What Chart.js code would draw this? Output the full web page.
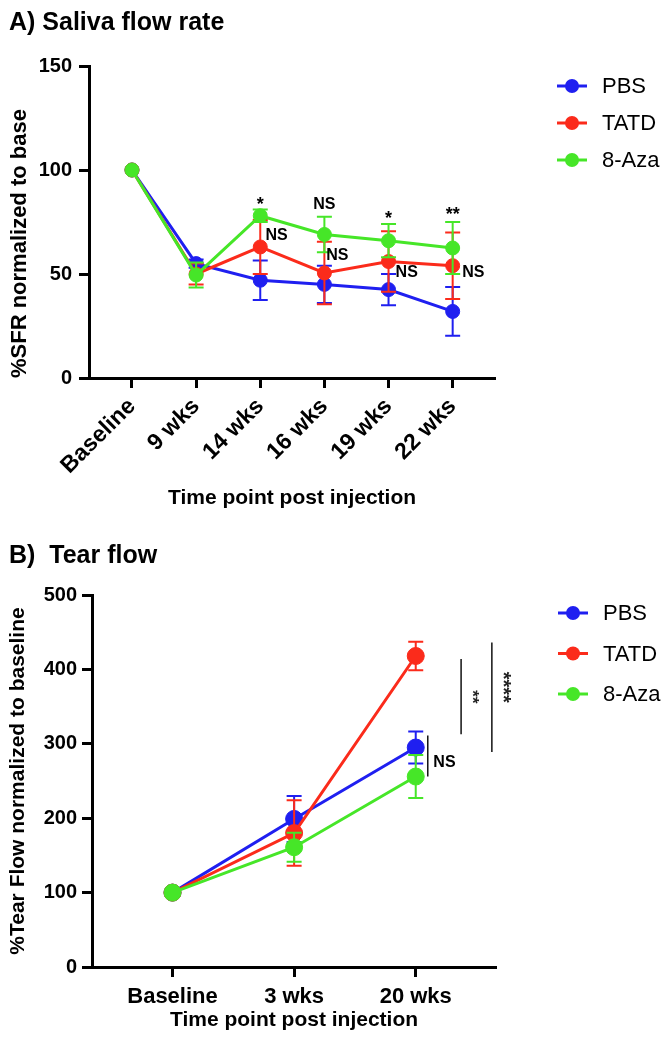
<!DOCTYPE html>
<html>
<head>
<meta charset="utf-8">
<script src="https://cdn.jsdelivr.net/npm/chart.js@4.4.0/dist/chart.umd.min.js"></script>
<style>
  body { margin: 0; background: #fff; }
  #page { position: relative; width: 669px; height: 1050px; font-family: 'Liberation Sans', Arial, sans-serif; }
  .box { position: absolute; left: 0; width: 669px; }
  .panel-title { position: absolute; left: 9px; font-weight: bold; font-size: 25px; line-height: 25px; white-space: pre; color: #000; }
</style>
</head>
<body>
<div id="page">
  <div class="box" style="top:0;height:530px"><canvas id="salivaChart"></canvas></div>
  <div class="box" style="top:530px;height:520px"><canvas id="tearChart"></canvas></div>
  <div class="panel-title" style="top:9px">A) Saliva flow rate</div>
  <div class="panel-title" style="top:542px">B)  Tear flow</div>
</div>
<script>
// --- A) Saliva flow rate ---
const salivaLabels = ['Baseline', '9 wks', '14 wks', '16 wks', '19 wks', '22 wks'];
const salivaPBS    = [100, 55, 47, 45, 42.5, 32];
const salivaPBSErr = [0, 2, 9.5, 9, 7.5, 11.7];
const salivaTATD    = [100, 50, 63, 50.5, 56, 54];
const salivaTATDErr = [0, 5, 13, 15, 14.5, 16];
const salivaAza    = [100, 49.5, 78, 69, 66, 62.5];
const salivaAzaErr = [0, 6, 3, 8.5, 8, 12.5];
// significance labels: [x position (category units), y value, text, align]
const salivaNotes = [
    [2, 84.8, '*', 'center'],
    [2.08, 68.7, 'NS', 'left'],
    [3, 83.5, 'NS', 'center'],
    [3.03, 58.8, 'NS', 'left'],
    [4, 77.9, '*', 'center'],
    [4.11, 50.6, 'NS', 'left'],
    [5, 79.7, '**', 'center'],
    [5.15, 50.6, 'NS', 'left']
];

// --- B) Tear flow ---
const tearLabels = ['Baseline', '3 wks', '20 wks'];
const tearPBS    = [100, 199, 295];
const tearPBSErr = [0, 31, 21.5];
const tearTATD    = [100, 180, 418];
const tearTATDErr = [0, 44, 19];
const tearAza    = [100, 161, 256];
const tearAzaErr = [0, 19.5, 29];
// brackets: [x (category units), from, to]
const tearBrackets = [
    [2.373, 414, 313],
    [2.626, 436, 289],
    [2.099, 311, 256]
];
const tearNotes = [
    [2.461, 363, '**', 'vertical'],
    [2.717, 376, '****', 'vertical'],
    [2.145, 274.6, 'NS', 'left']
];

const FONT = "'Liberation Sans', Arial, sans-serif";
const BLUE = '#1f1ff0';
const RED = '#fb2b1b';
const GREEN = '#46e628';

function series(label, values, errors, color, order, radius) {
    return {
        label: label,
        data: values.map((v, i) => ({ x: i, y: v })),
        errors: errors,
        borderColor: color,
        backgroundColor: color,
        pointBackgroundColor: color,
        pointBorderColor: color,
        borderWidth: 3,
        pointRadius: radius,
        pointBorderWidth: 1,
        tension: 0,
        order: order
    };
}

// error bars drawn under each dataset
const errorBars = {
    id: 'errorBars',
    beforeDatasetDraw(chart, args) {
        const ds = chart.data.datasets[args.index];
        if (!ds.errors) return;
        const yScale = chart.scales.y;
        const ctx = chart.ctx;
        ctx.save();
        ctx.strokeStyle = ds.borderColor;
        ctx.lineWidth = 2;
        args.meta.data.forEach((pt, i) => {
            const e = ds.errors[i];
            if (!e) return;
            const v = ds.data[i].y;
            const top = yScale.getPixelForValue(v + e);
            const bot = yScale.getPixelForValue(v - e);
            const cap = 7.5;
            ctx.beginPath();
            ctx.moveTo(pt.x, top); ctx.lineTo(pt.x, bot);
            ctx.moveTo(pt.x - cap, top); ctx.lineTo(pt.x + cap, top);
            ctx.moveTo(pt.x - cap, bot); ctx.lineTo(pt.x + cap, bot);
            ctx.stroke();
        });
        ctx.restore();
    }
};

function makeNotes(notes, brackets) {
    return {
        id: 'notes',
        afterDatasetsDraw(chart) {
            const { ctx, scales: { x, y } } = chart;
            ctx.save();
            ctx.fillStyle = '#000';
            ctx.textBaseline = 'middle';
            notes.forEach(([xv, yv, text, align]) => {
                const px = x.getPixelForValue(xv);
                const py = y.getPixelForValue(yv);
                if (align === 'vertical') {
                    ctx.save();
                    ctx.translate(px, py);
                    ctx.rotate(Math.PI / 2);
                    ctx.font = text.length > 2 ? `bold 20px ${FONT}` : `bold 17px ${FONT}`;
                    ctx.fillStyle = '#222';
                    ctx.textAlign = 'center';
                    ctx.fillText(text, 0, 0);
                    ctx.restore();
                    return;
                }
                ctx.font = text.startsWith('*') ? `bold 18px ${FONT}` : `bold 16px ${FONT}`;
                ctx.textAlign = align;
                ctx.fillText(text, px, text.startsWith('*') ? py + 3 : py);
            });
            ctx.strokeStyle = '#111';
            ctx.lineWidth = 1.5;
            brackets.forEach(([xv, y1, y2]) => {
                const px = x.getPixelForValue(xv);
                ctx.beginPath();
                ctx.moveTo(px, y.getPixelForValue(y1));
                ctx.lineTo(px, y.getPixelForValue(y2));
                ctx.stroke();
            });
            ctx.restore();
        }
    };
}

// legend on the right: short line with a dot, then the name
function makeLegend(firstRow, rowGap) {
    return {
        id: 'sideLegend',
        afterDraw(chart) {
            const { ctx, chartArea } = chart;
            ctx.save();
            chart.data.datasets.forEach((ds, i) => {
                const yy = chartArea.top + firstRow + i * rowGap;
                const x0 = chartArea.right + 62;
                ctx.strokeStyle = ds.borderColor;
                ctx.lineWidth = 3;
                ctx.beginPath();
                ctx.moveTo(x0, yy); ctx.lineTo(x0 + 30, yy);
                ctx.stroke();
                ctx.fillStyle = ds.borderColor;
                ctx.beginPath();
                ctx.arc(x0 + 15, yy, 7, 0, Math.PI * 2);
                ctx.fill();
                ctx.fillStyle = '#000';
                ctx.font = `22px ${FONT}`;
                ctx.textAlign = 'left';
                ctx.textBaseline = 'middle';
                ctx.fillText(ds.label, x0 + 45, yy + 1);
            });
            ctx.restore();
        }
    };
}

const axisGrid = { display: true, drawOnChartArea: false, drawTicks: true, tickLength: 10, tickWidth: 3, tickColor: '#000' };
const axisBorder = { display: true, color: '#000', width: 3 };

new Chart(document.getElementById('salivaChart'), {
    type: 'line',
    data: {
        datasets: [
            series('PBS', salivaPBS, salivaPBSErr, BLUE, 3, 7),
            series('TATD', salivaTATD, salivaTATDErr, RED, 2, 7),
            series('8-Aza', salivaAza, salivaAzaErr, GREEN, 1, 7)
        ]
    },
    options: {
        responsive: true,
        maintainAspectRatio: false,
        animation: false,
        layout: { padding: { top: 66, right: 174, left: 0, bottom: 0 } },
        plugins: { legend: { display: false }, tooltip: { enabled: false } },
        scales: {
            x: {
                type: 'linear',
                min: -0.67,
                max: 5.66,
                afterFit: s => { s.height = 152; },
                afterBuildTicks: s => { s.ticks = salivaLabels.map((_, i) => ({ value: i })); },
                ticks: {
                    callback: v => salivaLabels[v],
                    autoSkip: false,
                    minRotation: 45,
                    maxRotation: 45,
                    padding: 5,
                    color: '#000',
                    font: { family: FONT, size: 23, weight: 'bold' }
                },
                grid: axisGrid,
                border: axisBorder,
                title: {
                    display: true,
                    text: 'Time point post injection',
                    color: '#000',
                    font: { family: FONT, size: 21, weight: 'bold' },
                    padding: { top: 0, bottom: 19 }
                }
            },
            y: {
                min: 0,
                max: 150,
                afterFit: s => { s.width = 89; },
                ticks: {
                    stepSize: 50,
                    padding: 7,
                    color: '#000',
                    font: { family: FONT, size: 20, weight: 'bold' }
                },
                grid: axisGrid,
                border: axisBorder,
                title: {
                    display: true,
                    text: '%SFR normalized to base',
                    align: 'start',
                    color: '#000',
                    font: { family: FONT, size: 22, weight: 'bold' },
                    padding: { top: 7, bottom: 0 }
                }
            }
        }
    },
    plugins: [errorBars, makeNotes(salivaNotes, []), makeLegend(20, 37)]
});

new Chart(document.getElementById('tearChart'), {
    type: 'line',
    data: {
        datasets: [
            series('PBS', tearPBS, tearPBSErr, BLUE, 3, 8.5),
            series('TATD', tearTATD, tearTATDErr, RED, 2, 8.5),
            series('8-Aza', tearAza, tearAzaErr, GREEN, 1, 8.5)
        ]
    },
    options: {
        responsive: true,
        maintainAspectRatio: false,
        animation: false,
        layout: { padding: { top: 65, right: 173, left: 0, bottom: 0 } },
        plugins: { legend: { display: false }, tooltip: { enabled: false } },
        scales: {
            x: {
                type: 'linear',
                min: -0.662,
                max: 2.66,
                afterFit: s => { s.height = 83; },
                afterBuildTicks: s => { s.ticks = tearLabels.map((_, i) => ({ value: i })); },
                ticks: {
                    callback: v => tearLabels[v],
                    autoSkip: false,
                    maxRotation: 0,
                    padding: 7,
                    color: '#000',
                    font: { family: FONT, size: 22, weight: 'bold' }
                },
                grid: axisGrid,
                border: axisBorder,
                title: {
                    display: true,
                    text: 'Time point post injection',
                    color: '#000',
                    font: { family: FONT, size: 21, weight: 'bold' },
                    padding: { top: 0, bottom: 17 }
                }
            },
            y: {
                min: 0,
                max: 500,
                afterFit: s => { s.width = 92; },
                ticks: {
                    stepSize: 100,
                    padding: 5,
                    color: '#000',
                    font: { family: FONT, size: 20, weight: 'bold' }
                },
                grid: axisGrid,
                border: axisBorder,
                title: {
                    display: true,
                    text: '%Tear Flow normalized to baseline',
                    color: '#000',
                    font: { family: FONT, size: 21, weight: 'bold' },
                    padding: { top: 6, bottom: 0 }
                }
            }
        }
    },
    plugins: [errorBars, makeNotes(tearNotes, tearBrackets), makeLegend(18, 40.5)]
});
</script>
</body>
</html>
